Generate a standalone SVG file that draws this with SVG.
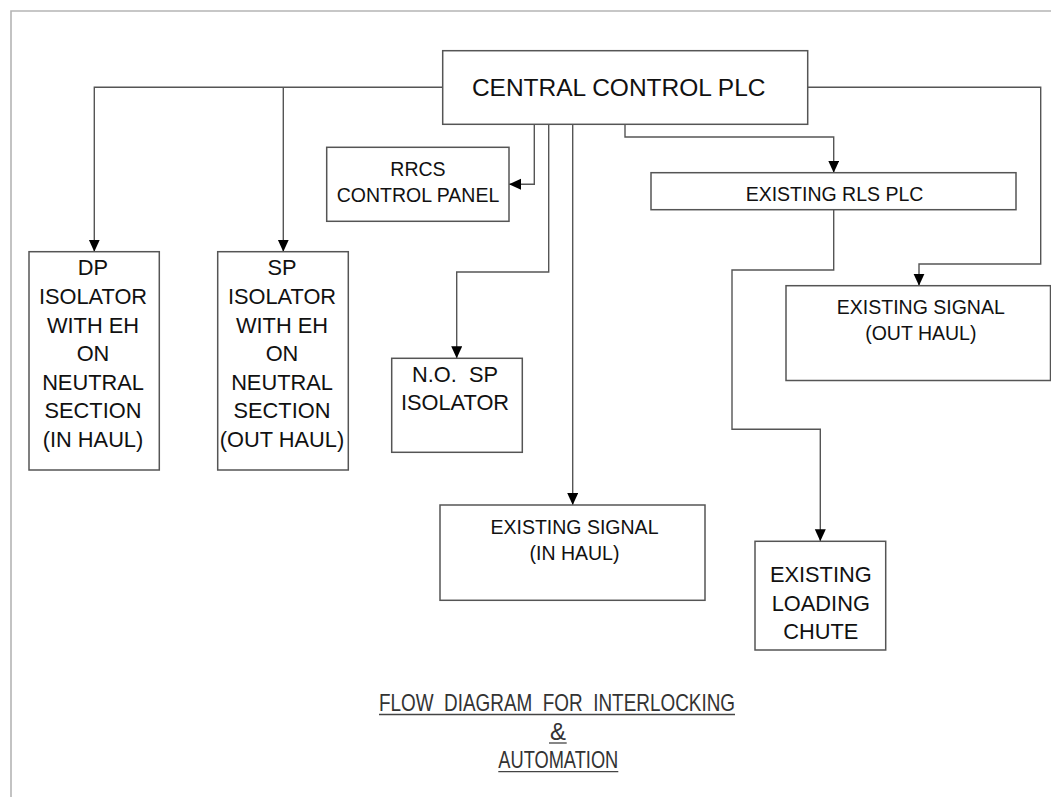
<svg xmlns="http://www.w3.org/2000/svg" width="1051" height="797" viewBox="0 0 1051 797">
<style>
.box{fill:#fff;stroke:#555;stroke-width:1.5}
.t{font-family:"Liberation Sans",Arial,sans-serif;fill:#111;text-anchor:middle}
.big{font-size:21.8px}
.mid{font-size:19.5px}
.conn{fill:none;stroke:#555;stroke-width:1.4}
.title{font-family:"Liberation Sans",Arial,sans-serif;fill:#333;font-size:24.5px}
.ul{stroke:#444;stroke-width:1.3}
</style>
<defs>
<marker id="arr" markerUnits="userSpaceOnUse" markerWidth="12" markerHeight="12" refX="12" refY="5.5" orient="auto">
<path d="M0,0 L12,5.5 L0,11 z" fill="#000"/>
</marker>
</defs>
<rect width="1051" height="797" fill="#fff"/>
<path d="M11,797 V11 H1051" fill="none" stroke="#b5b5b5" stroke-width="1.6"/>
<g id="connectors">
<path class="conn" d="M442.7,87.3 H94.3 V251.7" marker-end="url(#arr)"/>
<path class="conn" d="M283.3,87.3 V251.7" marker-end="url(#arr)"/>
<path class="conn" d="M534.3,124.3 V184.3 H509" marker-end="url(#arr)"/>
<path class="conn" d="M548.7,124.3 V272 H456.7 V358.3" marker-end="url(#arr)"/>
<path class="conn" d="M572.7,124.3 V505" marker-end="url(#arr)"/>
<path class="conn" d="M625,124.3 V137 H833.7 V172.7" marker-end="url(#arr)"/>
<path class="conn" d="M807.7,87.3 H1040.7 V264 H919 V285.7" marker-end="url(#arr)"/>
<path class="conn" d="M833.7,209.7 V270 H732 V429.3 H820.3 V541.3" marker-end="url(#arr)"/>
</g>
<g id="central-plc">
<rect class="box" x="442.7" y="50.7" width="365" height="73.6"/>
<text class="t" x="618.7" y="96" font-size="24.5">CENTRAL CONTROL PLC</text>
</g>
<g id="rrcs">
<rect class="box" x="326.7" y="147.3" width="182.3" height="74"/>
<text class="t mid" x="418" y="176">RRCS</text>
<text class="t mid" x="418" y="201.7">CONTROL PANEL</text>
</g>
<g id="dp-isolator">
<rect class="box" x="29" y="251.7" width="130.3" height="218.3"/>
<text class="t big" x="93" y="275.3">DP</text>
<text class="t big" x="93" y="303.9">ISOLATOR</text>
<text class="t big" x="93" y="332.5">WITH EH</text>
<text class="t big" x="93" y="361.1">ON</text>
<text class="t big" x="93" y="389.7">NEUTRAL</text>
<text class="t big" x="93" y="418.3">SECTION</text>
<text class="t big" x="93" y="446.9">(IN HAUL)</text>
</g>
<g id="sp-isolator">
<rect class="box" x="217.7" y="251.7" width="130.6" height="218.3"/>
<text class="t big" x="282" y="275.3">SP</text>
<text class="t big" x="282" y="303.9">ISOLATOR</text>
<text class="t big" x="282" y="332.5">WITH EH</text>
<text class="t big" x="282" y="361.1">ON</text>
<text class="t big" x="282" y="389.7">NEUTRAL</text>
<text class="t big" x="282" y="418.3">SECTION</text>
<text class="t big" x="282" y="446.9">(OUT HAUL)</text>
</g>
<g id="no-sp-isolator">
<rect class="box" x="391.7" y="358.3" width="130.6" height="94"/>
<text class="t big" x="455" y="381.7" style="white-space:pre">N.O.  SP</text>
<text class="t big" x="455" y="410">ISOLATOR</text>
</g>
<g id="signal-in">
<rect class="box" x="440" y="505" width="265" height="95.3"/>
<text class="t mid" x="574.5" y="534.3">EXISTING SIGNAL</text>
<text class="t mid" x="574.5" y="560">(IN HAUL)</text>
</g>
<g id="rls-plc">
<rect class="box" x="651" y="172.7" width="365" height="37"/>
<text class="t mid" x="834.5" y="201">EXISTING RLS PLC</text>
</g>
<g id="signal-out">
<rect class="box" x="786" y="285.7" width="264.5" height="94.8"/>
<text class="t mid" x="920.8" y="314">EXISTING SIGNAL</text>
<text class="t mid" x="920.8" y="340">(OUT HAUL)</text>
</g>
<g id="loading-chute">
<rect class="box" x="755" y="541.3" width="130.7" height="108.7"/>
<text class="t big" x="820.8" y="582.3">EXISTING</text>
<text class="t big" x="820.8" y="610.7">LOADING</text>
<text class="t big" x="820.8" y="639.3">CHUTE</text>
</g>
<g id="title">
<text class="title" x="379" y="711" textLength="356" lengthAdjust="spacingAndGlyphs" style="white-space:pre">FLOW  DIAGRAM  FOR  INTERLOCKING</text>
<line class="ul" x1="379" y1="714.5" x2="735" y2="714.5"/>
<text class="title" x="550" y="740" textLength="16" lengthAdjust="spacingAndGlyphs">&amp;</text>
<line class="ul" x1="549" y1="743" x2="566.7" y2="743"/>
<text class="title" x="498.3" y="767.7" textLength="120" lengthAdjust="spacingAndGlyphs">AUTOMATION</text>
<line class="ul" x1="498.3" y1="771.7" x2="618.3" y2="771.7"/>
</g>
</svg>
